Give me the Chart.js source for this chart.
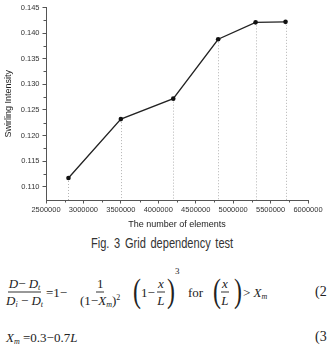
<!DOCTYPE html>
<html>
<head>
<meta charset="utf-8">
<script src="https://cdn.jsdelivr.net/npm/chart.js@4"></script>
<style>
  html, body { margin:0; padding:0; background:#fff; }
  body { width:332px; height:353px; position:relative; overflow:hidden; }
  #wrap { position:absolute; left:0; top:0; width:332px; height:232px; }
  #cap { position:absolute; left:91px; top:235px; font:14px 'Liberation Sans', Arial, sans-serif; color:#333;
         line-height:16px; white-space:nowrap; word-spacing:2px; transform-origin:0 50%; transform:scaleX(0.79); }
  .eq { position:absolute; font:13px 'Liberation Serif', 'Times New Roman', serif; color:#222; white-space:nowrap; }
  .p { position:absolute; top:0; transform:translateY(-50%); line-height:1; }
  .frac { display:flex; flex-direction:column; align-items:center; }
  .frac .num { border-bottom:1px solid #333; padding:0 1px 1px 1px; line-height:14px; }
  .frac .den { line-height:14px; padding-top:1px; }
  sub { font-size:8px; vertical-align:-2px; line-height:0; }
  sup { font-size:8px; vertical-align:5px; line-height:0; }
  .big { font-size:34px; transform:translateY(-53%) scaleX(0.7); transform-origin:0 50%; }
</style>
</head>
<body>
<div id="wrap"><canvas id="c" width="332" height="232"></canvas></div>
<div id="cap">Fig. 3 Grid dependency test</div>

<div class="eq" style="left:0; top:292px; width:332px;">
  <div class="p" style="left:6px;"><div class="frac"><div class="num"><i>D</i>− <i>D</i><sub><i>t</i></sub></div><div class="den"><i>D</i><sub><i>i</i></sub> − <i>D</i><sub><i>t</i></sub></div></div></div>
  <div class="p" style="left:46px;">=1−</div>
  <div class="p" style="left:80px;"><div class="frac"><div class="num">1</div><div class="den">(1−<i>X</i><sub><i>m</i></sub>)<sup>2</sup></div></div></div>
  <div class="p big" style="left:133px;">(</div>
  <div class="p" style="left:141px;">1−</div>
  <div class="p" style="left:157px;"><div class="frac"><div class="num"><i>x</i></div><div class="den"><i>L</i></div></div></div>
  <div class="p big" style="left:167px;">)</div>
  <div class="p" style="left:175px; top:-21px; font-size:9px;">3</div>
  <div class="p" style="left:188px;">for</div>
  <div class="p big" style="left:213px;">(</div>
  <div class="p" style="left:221px;"><div class="frac"><div class="num"><i>x</i></div><div class="den"><i>L</i></div></div></div>
  <div class="p big" style="left:234px;">)</div>
  <div class="p" style="left:243px;">&gt; <i>X</i><sub><i>m</i></sub></div>
  <div class="p" style="left:315px; font-size:14px;">(2</div>
</div>
<div class="eq" style="left:0; top:337px; width:332px;">
  <div class="p" style="left:6px;"><i>X</i><sub><i>m</i></sub> =0.3−0.7<i>L</i></div>
  <div class="p" style="left:315px; font-size:14px;">(3</div>
</div>

<script>
const elements  = [2800000, 3500000, 4200000, 4800000, 5300000, 5700000];
const intensity = [0.1117, 0.1232, 0.1272, 0.1388, 0.1421, 0.1422];
const xTicks = [2500000, 3000000, 3500000, 4000000, 4500000, 5000000, 5500000, 6000000];
const yTicks = [0.110, 0.115, 0.120, 0.125, 0.130, 0.135, 0.140, 0.145];
const xTitle = 'The number of elements';
const yTitle = 'Swirling Intensity';

Chart.defaults.font.family = "'Liberation Sans', Arial, sans-serif";

const dropLines = {
  id: 'dropLines',
  beforeDatasetsDraw(chart) {
    const {ctx, chartArea, scales: {x, y}} = chart;
    ctx.save();
    ctx.strokeStyle = '#b4b4b4';
    ctx.lineWidth = 1;
    ctx.setLineDash([1, 2]);
    elements.forEach((e, i) => {
      const px = Math.round(x.getPixelForValue(e)) + 0.5;
      const py = y.getPixelForValue(intensity[i]);
      ctx.beginPath();
      ctx.moveTo(px, py);
      ctx.lineTo(px, chartArea.bottom);
      ctx.stroke();
    });
    ctx.restore();
  }
};

const minorTicks = {
  id: 'minorTicks',
  afterDraw(chart) {
    const {ctx, chartArea, scales: {x, y}} = chart;
    ctx.save();
    ctx.strokeStyle = '#555';
    ctx.lineWidth = 1;
    for (let i = 0; i < xTicks.length - 1; i++) {
      const px = Math.round(x.getPixelForValue((xTicks[i] + xTicks[i + 1]) / 2)) + 0.5;
      ctx.beginPath(); ctx.moveTo(px, chartArea.bottom); ctx.lineTo(px, chartArea.bottom + 2.5); ctx.stroke();
    }
    for (let i = 0; i < yTicks.length - 1; i++) {
      const py = Math.round(y.getPixelForValue((yTicks[i] + yTicks[i + 1]) / 2)) + 0.5;
      ctx.beginPath(); ctx.moveTo(chartArea.left, py); ctx.lineTo(chartArea.left - 2.5, py); ctx.stroke();
    }
    ctx.restore();
  }
};

new Chart(document.getElementById('c'), {
  type: 'line',
  data: {
    datasets: [{
      data: elements.map((e, i) => ({x: e, y: intensity[i]})),
      borderColor: '#222',
      borderWidth: 1.3,
      pointRadius: 2.3,
      pointBackgroundColor: '#111',
      pointBorderColor: '#111',
      pointBorderWidth: 0,
      tension: 0,
      clip: false
    }]
  },
  plugins: [dropLines, minorTicks],
  options: {
    responsive: false,
    animation: false,
    events: [],
    layout: { padding: { left: 0, right: 24, top: 6, bottom: 0 } },
    plugins: { legend: { display: false }, tooltip: { enabled: false } },
    scales: {
      x: {
        type: 'linear',
        min: xTicks[0], max: xTicks[xTicks.length - 1],
        afterBuildTicks: s => { s.ticks = xTicks.map(v => ({value: v})); },
        afterFit: s => { s.height = 32; },
        ticks: { color: '#333', font: { size: 7.5 }, padding: 2, maxRotation: 0, autoSkip: false,
                 callback: v => String(v) },
        grid: { drawOnChartArea: false, drawTicks: true, tickLength: 3.5, color: '#555' },
        border: { color: '#555', width: 1 },
        title: { display: true, text: xTitle, color: '#222', font: { size: 9 }, padding: { top: 0, bottom: 1.6 } }
      },
      y: {
        min: 0.1074, max: 0.145,
        afterBuildTicks: s => { s.ticks = yTicks.map(v => ({value: v})); },
        afterFit: s => { s.width = 46; },
        ticks: { color: '#333', font: { size: 7.5 }, padding: 3, autoSkip: false,
                 callback: v => v.toFixed(3) },
        grid: { drawOnChartArea: false, drawTicks: true, tickLength: 3.5, color: '#555' },
        border: { color: '#555', width: 1 },
        title: { display: true, text: yTitle, color: '#222', font: { size: 9 }, padding: { top: 3.6, bottom: 0 } }
      }
    }
  }
});
</script>
</body>
</html>
